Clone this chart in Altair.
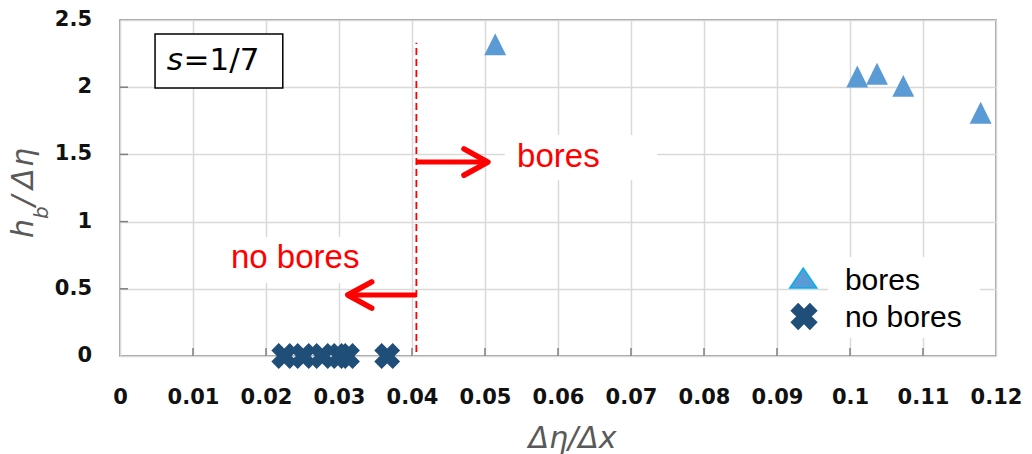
import altair as alt
import pandas as pd

# ---------------- data ----------------
bores_x = [0.0514, 0.1010, 0.1037, 0.1073, 0.1179]
bores_y = [2.32, 2.08, 2.10, 2.01, 1.81]
nobores_x = [0.0225, 0.0251, 0.0277, 0.0301, 0.0311, 0.0366]
nobores_y = [0, 0, 0, 0, 0, 0]

x_tick_values = [0, 0.01, 0.02, 0.03, 0.04, 0.05, 0.06, 0.07, 0.08, 0.09, 0.10, 0.11, 0.12]
y_tick_values = [0, 0.5, 1, 1.5, 2, 2.5]
y_tick_labels = ["0", "0.5", "1", "1.5", "2", "2.5"]
x_inner_ticks = [0.01, 0.02, 0.03, 0.04, 0.05, 0.06, 0.07, 0.08, 0.09, 0.10, 0.11]
y_inner_ticks = [0.5, 1, 1.5, 2]

threshold_x = [0.0406]
threshold_y = [0.03]
threshold_y2 = [2.33]

# arrows: shaft start, tip, height
arrow_x = [0.0406, 0.0406]
arrow_x2 = [0.0501, 0.0315]
arrow_tip = [0.0504, 0.0312]
arrow_y = [1.443, 0.454]

# white boxes behind annotation texts / legend
box_x = [0.0527, 0.0137, 0.0970]
box_x2 = [0.0736, 0.0349, 0.1178]
box_y = [1.31, 0.543, 0.134]
box_y2 = [1.644, 0.885, 0.737]

# red annotation texts
note_text = ["bores", "no bores"]
note_x = [0.0544, 0.0152]
note_y = [1.406, 0.655]

# s=1/7 label box
label_box = dict(x=[0.0048], x2=[0.0223], y=[1.994], y2=[2.396])
label_s_x = [0.0064]
label_rest_x = [0.0087]
label_y = [2.128]

# legend
legend_labels = ["bores", "no bores"]
legend_sym_x = [0.0936, 0.0937]
legend_sym_y = [0.580, 0.294]
legend_text_x = [0.0993, 0.0993]
legend_text_y = [0.491, 0.218]

# y-axis title pieces (text, font size, px offsets relative to plot origin)
ytitle_parts = ["h", "b", "/", "Δ", "η"]
ytitle_size = [30, 20, 30, 30, 30]
ytitle_px_x = [-87, -72, -87, -87, -87]
ytitle_px_y = [218, 199, 186, 169, 147]

# ---------------- scales / axes ----------------
xs = alt.Scale(domain=[0, 0.12], nice=False, zero=True)
ys = alt.Scale(domain=[0, 2.5], nice=False, zero=True)

xaxis = alt.Axis(
    values=x_tick_values, grid=True, gridColor="#d9d9d9", gridWidth=1.5,
    domain=False, ticks=False, labelFlush=False, labelOverlap=False,
    labelFont="DejaVu Sans", labelFontWeight="bold", labelFontSize=21,
    labelColor="#111111", labelPadding=30,
    labelExpr="format(datum.value, '.2~f')",
    title="Δη/Δx", titleFont="DejaVu Sans", titleFontStyle="italic",
    titleFontWeight="normal", titleFontSize=30, titleColor="#595959",
    titleX=452, titleY=91, titleBaseline="alphabetic",
)
yaxis = alt.Axis(
    values=y_tick_values, grid=True, gridColor="#d9d9d9", gridWidth=1.5,
    domain=False, ticks=False, labels=False, title=None,
)


def X(f="x"):
    return alt.X(f"{f}:Q", scale=xs, axis=xaxis)


def Y(f="y"):
    return alt.Y(f"{f}:Q", scale=ys, axis=yaxis)


RED = "#ff0000"

# ---------------- layers ----------------
boxes = alt.Chart(pd.DataFrame({"x": box_x, "x2": box_x2, "y": box_y, "y2": box_y2})).mark_rect(
    fill="white", strokeWidth=0
).encode(x=X(), x2="x2:Q", y=Y(), y2="y2:Q")

xt = alt.Chart(pd.DataFrame({"x": x_inner_ticks})).mark_rule(color="#7f7f7f", strokeWidth=1.5).encode(
    x=X(), y=alt.value(328), y2=alt.value(336)
)
yt = alt.Chart(pd.DataFrame({"y": y_inner_ticks})).mark_rule(color="#7f7f7f", strokeWidth=1.5).encode(
    y=Y(), x=alt.value(0), x2=alt.value(8)
)
ylabels = alt.Chart(pd.DataFrame({"y": y_tick_values, "t": y_tick_labels})).mark_text(
    font="DejaVu Sans", fontWeight="bold", fontSize=21, color="#111111",
    align="right", baseline="middle"
).encode(y=Y(), x=alt.value(-28), text="t:N")

thresh = alt.Chart(pd.DataFrame({"x": threshold_x, "y": threshold_y, "y2": threshold_y2})).mark_rule(
    color=RED, strokeWidth=1.8, strokeDash=[7, 4]
).encode(x=X(), y=Y(), y2="y2:Q")

shafts = alt.Chart(pd.DataFrame({"x": arrow_x, "x2": arrow_x2, "y": arrow_y})).mark_rule(
    color=RED, strokeWidth=5
).encode(x=X(), x2="x2:Q", y=Y())

head_r = alt.Chart(pd.DataFrame({"x": arrow_tip[:1], "y": arrow_y[:1]})).mark_point(
    shape="M-1,-0.55L0,0L-1,0.55", filled=False, stroke=RED, strokeWidth=5.5,
    size=2300, strokeCap="round", strokeJoin="round", opacity=1
).encode(x=X(), y=Y())
head_l = alt.Chart(pd.DataFrame({"x": arrow_tip[1:], "y": arrow_y[1:]})).mark_point(
    shape="M1,-0.55L0,0L1,0.55", filled=False, stroke=RED, strokeWidth=5.5,
    size=2300, strokeCap="round", strokeJoin="round", opacity=1
).encode(x=X(), y=Y())

notes = alt.Chart(pd.DataFrame({"x": note_x, "y": note_y, "t": note_text})).mark_text(
    font="Liberation Sans", fontSize=33, color=RED, align="left", baseline="alphabetic"
).encode(x=X(), y=Y(), text="t:N")

lbox = alt.Chart(pd.DataFrame(label_box)).mark_rect(
    fill="white", stroke="black", strokeWidth=1.5
).encode(x=X(), x2="x2:Q", y=Y(), y2="y2:Q")
ls = alt.Chart(pd.DataFrame({"x": label_s_x, "y": label_y, "t": ["s"]})).mark_text(
    font="DejaVu Sans", fontStyle="italic", fontSize=31, color="black", align="left", baseline="alphabetic"
).encode(x=X(), y=Y(), text="t:N")
lr = alt.Chart(pd.DataFrame({"x": label_rest_x, "y": label_y, "t": ["=1/7"]})).mark_text(
    font="DejaVu Sans", fontSize=31, color="black", align="left", baseline="alphabetic"
).encode(x=X(), y=Y(), text="t:N")

tri = alt.Chart(pd.DataFrame({"x": bores_x, "y": bores_y})).mark_point(
    shape="M0,-1L1,1L-1,1Z", filled=True, fill="#5b9bd5", size=480, opacity=1, strokeWidth=0
).encode(x=X(), y=Y())
crs = alt.Chart(pd.DataFrame({"x": nobores_x, "y": nobores_y})).mark_point(
    shape="cross", angle=45, filled=True, fill="#1f4e79", size=680, opacity=1, strokeWidth=0
).encode(x=X(), y=Y())

leg_tri = alt.Chart(pd.DataFrame({"x": legend_sym_x[:1], "y": legend_sym_y[:1]})).mark_point(
    shape="M0,-0.74L1,0.74L-1,0.74Z", filled=True, fill="#5b9bd5", stroke="#00b0f0",
    strokeWidth=1.5, size=729, opacity=1
).encode(x=X(), y=Y())
leg_crs = alt.Chart(pd.DataFrame({"x": legend_sym_x[1:], "y": legend_sym_y[1:]})).mark_point(
    shape="cross", angle=45, filled=True, fill="#1f4e79", size=760, opacity=1, strokeWidth=0
).encode(x=X(), y=Y())
leg_txt = alt.Chart(pd.DataFrame({"x": legend_text_x, "y": legend_text_y, "t": legend_labels})).mark_text(
    font="Liberation Sans", fontSize=30, color="black", align="left", baseline="alphabetic"
).encode(x=X(), y=Y(), text="t:N")

ytitle_layers = []
for txt, fs, px, py in zip(ytitle_parts, ytitle_size, ytitle_px_x, ytitle_px_y):
    ytitle_layers.append(
        alt.Chart(pd.DataFrame({"t": [txt]})).mark_text(
            font="DejaVu Sans", fontStyle="italic", fontSize=fs, color="#595959",
            angle=270, align="left", baseline="alphabetic"
        ).encode(x=alt.value(px), y=alt.value(py), text="t:N")
    )

chart = alt.layer(
    boxes, xt, yt, ylabels, thresh, shafts, head_r, head_l, notes, lbox, ls, lr,
    tri, crs, leg_tri, leg_crs, leg_txt, *ytitle_layers
).properties(
    width=876, height=336, autosize="none",
    padding={"left": 120, "top": 20, "right": 36, "bottom": 98},
    background="white",
).configure_view(
    stroke="#7f7f7f", strokeWidth=1.5
)

chart.save("out.html", embed_options={"renderer": "svg", "actions": False})
